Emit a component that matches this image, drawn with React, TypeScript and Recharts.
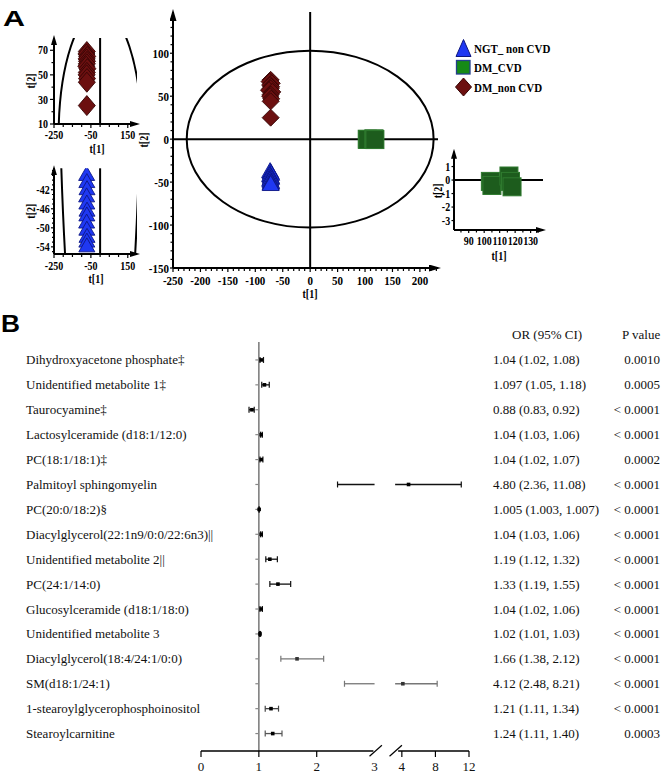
import React from 'react';
import { ScatterChart, Scatter, XAxis, YAxis, ReferenceLine, ReferenceArea, ReferenceDot, Legend } from 'recharts';

const SERIF = '"Liberation Serif", "Times New Roman", Times, serif';
const SANS = '"Liberation Sans", Arial, Helvetica, sans-serif';

/* ---------------- Panel A : PCA score plot ---------------- */
const groupNames = ['NGT_ non CVD', 'DM_CVD', 'DM_non CVD'];
const ngtT1 = [-73, -72, -71, -73, -72, -71, -72, -73, -72, -71, -72, -72];
const ngtT2 = [-39, -40.5, -42, -43.5, -45, -46.5, -47.5, -49, -50.5, -52, -53, -54];
const dmCvdT1 = [104, 105, 116, 117, 118];
const dmCvdT2 = [-0.1, -0.4, 0.3, -0.1, -0.5];
const dmNonT1 = [-72, -74, -70, -73, -71, -72, -75, -69, -72, -73, -71, -72, -72];
const dmNonT2 = [69, 67, 65, 63, 61, 59, 57, 55, 52, 50, 47, 44, 25];
const ellipseT1 = 225;
const ellipseT2 = 103;

const mainT1Labels = [-250, -200, -150, -100, -50, 0, 50, 100, 150, 200];
const mainT2Labels = [-150, -100, -50, 0, 50, 100];
const insetT1Labels = [-250, -50, 150];
const inset1T2Labels = [10, 30, 50, 70];
const inset2T2Labels = [-54, -50, -46, -42];
const inset3T1Labels = [90, 100, 110, 120, 130];
const inset3T2Labels = [-3, -2, -1, 0, 1];

const zip = (xs: number[], ys: number[]) => xs.map((x, i) => ({ x, y: ys[i] }));
const ngtData = zip(ngtT1, ngtT2);
const dmCvdData = zip(dmCvdT1, dmCvdT2);
const dmNonData = zip(dmNonT1, dmNonT2);

const steps = (a: number, b: number, s: number) => {
  const out: number[] = [];
  for (let v = a; v <= b + 1e-9; v += s) out.push(Math.round(v * 1000) / 1000);
  return out;
};

/* ---------------- Panel B : forest plot ---------------- */
const metabolites = [
  'Dihydroxyacetone phosphate‡',
  'Unidentified metabolite 1‡',
  'Taurocyamine‡',
  'Lactosylceramide (d18:1/12:0)',
  'PC(18:1/18:1)‡',
  'Palmitoyl sphingomyelin',
  'PC(20:0/18:2)§',
  'Diacylglycerol(22:1n9/0:0/22:6n3)||',
  'Unidentified metabolite 2||',
  'PC(24:1/14:0)',
  'Glucosylceramide (d18:1/18:0)',
  'Unidentified metabolite 3',
  'Diacylglycerol(18:4/24:1/0:0)',
  'SM(d18:1/24:1)',
  '1-stearoylglycerophosphoinositol',
  'Stearoylcarnitine',
];
const oddsRatio = [1.04, 1.097, 0.88, 1.04, 1.04, 4.8, 1.005, 1.04, 1.19, 1.33, 1.04, 1.02, 1.66, 4.12, 1.21, 1.24];
const ciLower = [1.02, 1.05, 0.83, 1.03, 1.02, 2.36, 1.003, 1.03, 1.12, 1.19, 1.02, 1.01, 1.38, 2.48, 1.11, 1.11];
const ciUpper = [1.08, 1.18, 0.92, 1.06, 1.07, 11.08, 1.007, 1.06, 1.32, 1.55, 1.06, 1.03, 2.12, 8.21, 1.34, 1.4];
const orLabels = [
  '1.04 (1.02, 1.08)', '1.097 (1.05, 1.18)', '0.88 (0.83, 0.92)', '1.04 (1.03, 1.06)',
  '1.04 (1.02, 1.07)', '4.80 (2.36, 11.08)', '1.005 (1.003, 1.007)', '1.04 (1.03, 1.06)',
  '1.19 (1.12, 1.32)', '1.33 (1.19, 1.55)', '1.04 (1.02, 1.06)', '1.02 (1.01, 1.03)',
  '1.66 (1.38, 2.12)', '4.12 (2.48, 8.21)', '1.21 (1.11, 1.34)', '1.24 (1.11, 1.40)',
];
const pLabels = [
  '0.0010', '0.0005', '< 0.0001', '< 0.0001', '0.0002', '< 0.0001', '< 0.0001', '< 0.0001',
  '< 0.0001', '< 0.0001', '< 0.0001', '< 0.0001', '< 0.0001', '< 0.0001', '< 0.0001', '0.0003',
];
const orTickValues = [0, 1, 2, 3, 4, 8, 12];
const orTickLabels = ['0', '1', '2', '3', '4', '8', '12'];
const rowInk = ['#111', '#111', '#111', '#111', '#111', '#111', '#111', '#111', '#111', '#111', '#111', '#111', '#777', '#777', '#444', '#555'];

/* broken axis: linear 0..3, then compressed 4..12 */
const BREAK_LOW = 3;
const RESUME = 3.2;
const U_AT_4 = 3.4715;
const U_PER_HIGH = 0.1451;
const toAxis = (v: number) => (v <= BREAK_LOW ? v : U_AT_4 + (v - 4) * U_PER_HIGH);
const AXIS_END_1 = 2.98;
const AXIS_START_2 = 3.56;
const Y_TOP = 0.28;
const Y_BOTTOM = 16.7;

const rows = metabolites.map((_, i) => i + 1);
const forestPoints = oddsRatio.map((v, i) => ({ x: toAxis(v), y: i + 1, row: i }));
const ciPieces = oddsRatio.map((_, i) => {
  const lo = ciLower[i];
  const hi = ciUpper[i];
  return hi <= BREAK_LOW ? [[lo, hi]] : [[lo, BREAK_LOW], [RESUME, hi]];
});

/* ---------------- styling helpers ---------------- */
const COL = {
  ngt: '#1f38f2', ngtEdge: '#0c1686',
  cvd: '#1d5c1d', cvdEdge: '#2f7a2f',
  non: '#6c1010', nonEdge: '#360404',
};

type TickStyle = { labels: number[]; fs: number; major: number; minor: number; gap: number; stretch: number };
const isIn = (arr: number[], v: number) => arr.some((a) => Math.abs(a - v) < 1e-6);

const bottomTick = (s: TickStyle) => (p: any) => {
  const v = p.payload.value;
  const lab = isIn(s.labels, v);
  const len = lab ? s.major : s.minor;
  return (
    <g>
      <line x1={p.x} y1={p.y} x2={p.x} y2={p.y + len} stroke="#000" strokeWidth={1.2} />
      {lab && (
        <text transform={`translate(${p.x},${p.y + len + s.gap}) scale(1,${s.stretch})`} textAnchor="middle" dy="0.72em"
          fontSize={s.fs} fontWeight="bold" fontFamily={SERIF} fill="#000">{String(v)}</text>
      )}
    </g>
  );
};
const leftTick = (s: TickStyle) => (p: any) => {
  const v = p.payload.value;
  const lab = isIn(s.labels, v);
  const len = lab ? s.major : s.minor;
  return (
    <g>
      <line x1={p.x} y1={p.y} x2={p.x - len} y2={p.y} stroke="#000" strokeWidth={1.2} />
      {lab && (
        <text transform={`translate(${p.x - len - s.gap},${p.y}) scale(1,${s.stretch})`} textAnchor="end" dy="0.35em"
          fontSize={s.fs} fontWeight="bold" fontFamily={SERIF} fill="#000">{String(v)}</text>
      )}
    </g>
  );
};

const xTitle = (text: string, fromBottom: number, dx: number) => (p: any) => {
  const vb = p.viewBox || p;
  return (
    <text transform={`translate(${vb.x + vb.width / 2 + dx},${vb.y + vb.height - fromBottom}) scale(1,1.2)`} textAnchor="middle"
      fontSize={10} fontWeight="bold" fontFamily={SERIF} fill="#000">{text}</text>
  );
};
const yTitle = (text: string, fromLeft: number) => (p: any) => {
  const vb = p.viewBox || p;
  return (
    <text transform={`translate(${vb.x + fromLeft},${vb.y + vb.height / 2}) rotate(-90) scale(1,1.2)`} textAnchor="middle" dy="0.35em"
      fontSize={10} fontWeight="bold" fontFamily={SERIF} fill="#000">{text}</text>
  );
};

type Clip = { id: string; x: number; y: number; w: number; h: number };
const ellipseShape = (clip?: Clip) => (p: any) => (
  <g>
    {clip && (
      <defs>
        <clipPath id={clip.id}>
          <rect x={clip.x} y={clip.y} width={clip.w} height={clip.h} />
        </clipPath>
      </defs>
    )}
    <ellipse cx={p.x + p.width / 2} cy={p.y + p.height / 2} rx={Math.abs(p.width / 2)} ry={Math.abs(p.height / 2)}
      fill="none" stroke="#000" strokeWidth={2} clipPath={clip ? `url(#${clip.id})` : undefined} />
  </g>
);
const triShape = (w: number, up: number, down: number) => (p: any) => (
  <polygon points={`${p.cx},${p.cy - up} ${p.cx + w / 2},${p.cy + down} ${p.cx - w / 2},${p.cy + down}`}
    fill={COL.ngt} stroke={COL.ngtEdge} strokeWidth={0.9} />
);
const sqShape = (w: number, h: number) => (p: any) => (
  <rect x={p.cx - w / 2} y={p.cy - h / 2} width={w} height={h} fill={COL.cvd} stroke={COL.cvdEdge} strokeWidth={1} />
);
const diaShape = (w: number, h: number) => (p: any) => (
  <polygon points={`${p.cx},${p.cy - h / 2} ${p.cx + w / 2},${p.cy} ${p.cx},${p.cy + h / 2} ${p.cx - w / 2},${p.cy}`}
    fill={COL.non} stroke={COL.nonEdge} strokeWidth={0.9} />
);

const AX_BIG_X = { stroke: '#000', strokeWidth: 2, markerEnd: 'url(#arrowBig)' };
const AX_BIG_Y = { stroke: '#000', strokeWidth: 2, markerStart: 'url(#arrowBig)' };
const AX_SM_X = { stroke: '#000', strokeWidth: 2, markerEnd: 'url(#arrowSmall)' };
const AX_SM_Y = { stroke: '#000', strokeWidth: 2, markerStart: 'url(#arrowSmall)' };

const legendRowH = [19.5, 19.5, 20];
const LegendIcon = ({ type, color }: { type: string; color: string }) => (
  <svg width={18} height={20} style={{ display: 'block', flex: '0 0 auto' }}>
    {type === 'triangle' && <polygon points="9.5,1.5 17,18.5 2,18.5" fill={color} stroke="#0d1680" strokeWidth={1} />}
    {type === 'square' && <rect x={2.5} y={3.5} width={13.5} height={13.5} fill={color} stroke="#24408c" strokeWidth={1.3} />}
    {type === 'diamond' && <polygon points="9.5,1 17.5,10 9.5,19 1.5,10" fill={color} stroke={COL.nonEdge} strokeWidth={1} />}
  </svg>
);
const renderLegend = (props: any) => {
  const entries = [...(props.payload || [])].sort((a: any, b: any) => groupNames.indexOf(a.value) - groupNames.indexOf(b.value));
  return (
    <div style={{ fontFamily: SERIF, fontWeight: 'bold', fontSize: 11, color: '#000' }}>
      {entries.map((e: any, i: number) => (
        <div key={e.value} style={{ display: 'flex', alignItems: 'center', height: legendRowH[i] }}>
          <LegendIcon type={e.type} color={e.color} />
          <span style={{ marginLeft: 2, display: 'inline-block', transform: 'scaleY(1.2)', whiteSpace: 'nowrap' }}>{e.value}</span>
        </div>
      ))}
    </div>
  );
};

/* ---------------- forest helpers ---------------- */
const F_LEFT = 201;
const F_RIGHT = 469;
const forestRowTick = (p: any) => {
  const i = Math.round(p.payload.value) - 1;
  return (
    <g fontFamily={SERIF} fontSize={13} fill="#111">
      <text x={p.x - (F_LEFT - 26)} y={p.y} dy="0.35em" textAnchor="start">{metabolites[i]}</text>
      <text x={F_RIGHT + 24} y={p.y} dy="0.35em" textAnchor="start">{orLabels[i]}</text>
      <text x={660} y={p.y} dy="0.35em" textAnchor="end">{pLabels[i]}</text>
    </g>
  );
};
const forestXTick = (p: any) => {
  const idx = orTickValues.findIndex((t) => Math.abs(toAxis(t) - p.payload.value) < 1e-6);
  const label = orTickLabels[idx];
  const showLine = orTickValues[idx] !== BREAK_LOW;
  return (
    <g>
      {showLine && <line x1={p.x} y1={p.y} x2={p.x} y2={p.y + 6} stroke="#000" strokeWidth={1.2} />}
      <text x={p.x} y={p.y + 10.5} dy="0.71em" textAnchor="middle" fontSize={13} fontFamily={SERIF} fill="#111">{label}</text>
    </g>
  );
};
const capShape = (color: string) => (p: any) => (
  <line x1={p.cx} y1={p.cy - 3} x2={p.cx} y2={p.cy + 3} stroke={color} strokeWidth={1.2} />
);
const rowTickShape = (p: any) => <line x1={p.cx - 3.5} y1={p.cy} x2={p.cx} y2={p.cy} stroke="#888" strokeWidth={1.2} />;
const dotShape = (p: any) => {
  const r = p.payload ? p.payload.row : p.row;
  return <rect x={p.cx - 1.8} y={p.cy - 1.8} width={3.6} height={3.6} fill={rowInk[r] === '#777' ? '#333' : '#000'} />;
};

export default function App() {
  const mainXStyle: TickStyle = { labels: mainT1Labels, fs: 11, major: 4, minor: 3, gap: 3, stretch: 1.2 };
  const mainYStyle: TickStyle = { labels: mainT2Labels, fs: 11, major: 3, minor: 2.5, gap: 1, stretch: 1.2 };
  const inXStyle: TickStyle = { labels: insetT1Labels, fs: 10, major: 4, minor: 3, gap: 2.5, stretch: 1.2 };
  const in1YStyle: TickStyle = { labels: inset1T2Labels, fs: 10, major: 4, minor: 2.5, gap: 2, stretch: 1.2 };
  const in2YStyle: TickStyle = { labels: inset2T2Labels, fs: 10, major: 3, minor: 2, gap: 1.3, stretch: 1.2 };
  const in3XStyle: TickStyle = { labels: inset3T1Labels, fs: 10, major: 3, minor: 2.5, gap: 3.5, stretch: 1.2 };
  const in3YStyle: TickStyle = { labels: inset3T2Labels, fs: 10, major: 2.5, minor: 2, gap: 1.3, stretch: 1.2 };

  return (
    <div style={{ position: 'absolute', left: 0, top: 0, width: 663, height: 776, background: '#fff', overflow: 'hidden' }}>
      <svg width={0} height={0} style={{ position: 'absolute' }}>
        <defs>
          <marker id="arrowBig" viewBox="0 0 12 7" refX={9} refY={3.5} markerWidth={12} markerHeight={7}
            markerUnits="userSpaceOnUse" orient="auto-start-reverse">
            <path d="M0,0 L12,3.5 L0,7 z" fill="#000" />
          </marker>
          <marker id="arrowSmall" viewBox="0 0 10 6" refX={7} refY={3} markerWidth={10} markerHeight={6}
            markerUnits="userSpaceOnUse" orient="auto-start-reverse">
            <path d="M0,0 L10,3 L0,6 z" fill="#000" />
          </marker>
        </defs>
      </svg>

      {/* main score plot */}
      <div style={{ position: 'absolute', left: 130, top: 0 }}>
        <ScatterChart width={440} height={300} margin={{ top: 12, right: 132, bottom: 0, left: 0 }}>
          <XAxis type="number" dataKey="x" domain={[-250, 233]} allowDataOverflow ticks={steps(-250, 230, 10)} interval={0}
            tickLine={false} tickSize={0} tickMargin={0} tick={bottomTick(mainXStyle)} axisLine={AX_BIG_X} height={32}
            label={xTitle('t[1]', 2.5, 4.5)} />
          <YAxis type="number" dataKey="y" domain={[-150, 148]} allowDataOverflow ticks={steps(-150, 140, 10)} interval={0}
            tickLine={false} tickSize={0} tickMargin={0} tick={leftTick(mainYStyle)} axisLine={AX_BIG_Y} width={43}
            label={yTitle('t[2]', 14)} />
          <ReferenceArea x1={-ellipseT1} x2={ellipseT1} y1={-ellipseT2} y2={ellipseT2} shape={ellipseShape()} ifOverflow="visible" />
          <ReferenceLine x={0} stroke="#000" strokeWidth={2} />
          <ReferenceLine y={0} stroke="#000" strokeWidth={2} />
          <Scatter name={groupNames[0]} data={ngtData} fill={COL.ngt} legendType="triangle" shape={triShape(17, 10, 5)} isAnimationActive={false} />
          <Scatter name={groupNames[1]} data={dmCvdData} fill="#168a16" legendType="square" shape={sqShape(18, 18)} isAnimationActive={false} />
          <Scatter name={groupNames[2]} data={dmNonData} fill={COL.non} legendType="diamond" shape={diaShape(17, 17)} isAnimationActive={false} />
          <Legend content={renderLegend} layout="horizontal" verticalAlign="middle" align="center"
            wrapperStyle={{ left: 324, top: 38, width: 116, height: 60 }} />
        </ScatterChart>
      </div>

      {/* inset: DM_non CVD */}
      <div style={{ position: 'absolute', left: 20, top: 28 }}>
        <ScatterChart width={130} height={128} margin={{ top: 10, right: 13, bottom: 0, left: 0 }}>
          <XAxis type="number" dataKey="x" domain={[-250, 200]} allowDataOverflow ticks={steps(-250, 150, 50)} interval={0}
            tickLine={false} tickSize={0} tickMargin={0} tick={bottomTick(inXStyle)} axisLine={AX_SM_X} height={32}
            label={xTitle('t[1]', 3.5, 1.5)} />
          <YAxis type="number" dataKey="y" domain={[10, 80]} allowDataOverflow ticks={steps(10, 70, 10)} interval={0}
            tickLine={false} tickSize={0} tickMargin={0} tick={leftTick(in1YStyle)} axisLine={AX_SM_Y} width={34}
            label={yTitle('t[2]', 11)} />
          <ReferenceArea x1={-ellipseT1} x2={ellipseT1} y1={-ellipseT2} y2={ellipseT2}
            shape={ellipseShape({ id: 'clipInset1', x: 34, y: 10, w: 83, h: 86 })} ifOverflow="visible" />
          <ReferenceLine x={0} stroke="#000" strokeWidth={2} />
          <Scatter name={groupNames[2]} data={dmNonData} fill={COL.non} shape={diaShape(17, 20)} isAnimationActive={false} />
        </ScatterChart>
      </div>

      {/* inset: NGT_non CVD */}
      <div style={{ position: 'absolute', left: 20, top: 158 }}>
        <ScatterChart width={130} height={128} margin={{ top: 10.3, right: 13, bottom: 0, left: 0 }}>
          <XAxis type="number" dataKey="x" domain={[-250, 200]} allowDataOverflow ticks={steps(-250, 150, 50)} interval={0}
            tickLine={false} tickSize={0} tickMargin={0} tick={bottomTick({ ...inXStyle, gap: 3.5 })} axisLine={AX_SM_X} height={32}
            label={xTitle('t[1]', 3.5, 0.5)} />
          <YAxis type="number" dataKey="y" domain={[-55.5, -37.5]} allowDataOverflow ticks={steps(-55, -38, 1)} interval={0}
            tickLine={false} tickSize={0} tickMargin={0} tick={leftTick(in2YStyle)} axisLine={AX_SM_Y} width={34}
            label={yTitle('t[2]', 11)} />
          <ReferenceArea x1={-ellipseT1} x2={ellipseT1} y1={-ellipseT2} y2={ellipseT2}
            shape={ellipseShape({ id: 'clipInset2', x: 34, y: 10.3, w: 83, h: 85.7 })} ifOverflow="visible" />
          <ReferenceLine x={0} stroke="#000" strokeWidth={2} />
          <Scatter name={groupNames[0]} data={ngtData} fill={COL.ngt} shape={triShape(16, 9, 5)} isAnimationActive={false} />
        </ScatterChart>
      </div>

      {/* inset: DM_CVD */}
      <div style={{ position: 'absolute', left: 420, top: 140 }}>
        <ScatterChart width={140} height={125} margin={{ top: 11.7, right: 17, bottom: 0, left: 0 }}>
          <XAxis type="number" dataKey="x" domain={[80.5, 138]} allowDataOverflow ticks={steps(85, 135, 5)} interval={0}
            tickLine={false} tickSize={0} tickMargin={0} tick={bottomTick(in3XStyle)} axisLine={AX_SM_X} height={35}
            label={xTitle('t[1]', 5.5, 0.5)} />
          <YAxis type="number" dataKey="y" domain={[-3.7, 2.1]} allowDataOverflow ticks={steps(-3, 1, 1)} interval={0}
            tickLine={false} tickSize={0} tickMargin={0} tick={leftTick(in3YStyle)} axisLine={AX_SM_Y} width={34}
            label={yTitle('t[2]', 18)} />
          <ReferenceLine y={0} stroke="#000" strokeWidth={2} />
          <Scatter name={groupNames[1]} data={dmCvdData} fill={COL.cvd} shape={sqShape(18, 18)} isAnimationActive={false} />
        </ScatterChart>
      </div>

      {/* forest plot */}
      <div style={{ position: 'absolute', left: 0, top: 300 }}>
        <ScatterChart width={663} height={476} margin={{ top: 42, right: 663 - F_RIGHT, bottom: 0, left: 0 }}>
          <XAxis type="number" dataKey="x" domain={[0, toAxis(12)]} allowDataOverflow ticks={orTickValues.map(toAxis)} interval={0}
            tickLine={false} tickSize={0} tickMargin={0} tick={forestXTick} axisLine={false} height={25} />
          <YAxis type="number" dataKey="y" domain={[Y_TOP, Y_BOTTOM]} allowDataOverflow reversed ticks={rows} interval={0}
            tickLine={false} tickSize={0} tickMargin={0} tick={forestRowTick} axisLine={false} width={F_LEFT} />
          <ReferenceLine x={1} stroke="#808080" strokeWidth={1.6} />
          <ReferenceLine segment={[{ x: 0, y: Y_BOTTOM }, { x: toAxis(AXIS_END_1), y: Y_BOTTOM }]} stroke="#000" strokeWidth={1.3} ifOverflow="visible" />
          <ReferenceLine segment={[{ x: toAxis(AXIS_START_2), y: Y_BOTTOM }, { x: toAxis(12), y: Y_BOTTOM }]} stroke="#000" strokeWidth={1.3} ifOverflow="visible" />
          <ReferenceLine segment={[{ x: 2.913, y: Y_BOTTOM + 0.21 }, { x: 3.127, y: Y_BOTTOM - 0.23 }]} stroke="#000" strokeWidth={1.2} ifOverflow="visible" />
          <ReferenceLine segment={[{ x: 3.259, y: Y_BOTTOM + 0.21 }, { x: 3.473, y: Y_BOTTOM - 0.23 }]} stroke="#000" strokeWidth={1.2} ifOverflow="visible" />
          {rows.map((r) => (
            <ReferenceDot key={`t${r}`} x={1} y={r} r={1} shape={rowTickShape} ifOverflow="visible" />
          ))}
          {ciPieces.map((pieces, i) =>
            pieces.map((pc, j) => (
              <ReferenceLine key={`ci${i}-${j}`} segment={[{ x: toAxis(pc[0]), y: i + 1 }, { x: toAxis(pc[1]), y: i + 1 }]}
                stroke={rowInk[i]} strokeWidth={1.3} ifOverflow="visible" />
            ))
          )}
          {ciLower.map((lo, i) => (
            <ReferenceDot key={`lo${i}`} x={toAxis(lo)} y={i + 1} r={1} shape={capShape(rowInk[i])} ifOverflow="visible" />
          ))}
          {ciUpper.map((hi, i) => (
            <ReferenceDot key={`hi${i}`} x={toAxis(hi)} y={i + 1} r={1} shape={capShape(rowInk[i])} ifOverflow="visible" />
          ))}
          <Scatter data={forestPoints} fill="#000" shape={dotShape} isAnimationActive={false} />
        </ScatterChart>
      </div>

      {/* panel letters and column headers */}
      <svg width={663} height={776} style={{ position: 'absolute', left: 0, top: 0, pointerEvents: 'none' }}>
        <text x={3} y={26} fontFamily={SANS} fontWeight="bold" fontSize={22} textLength={22} lengthAdjust="spacingAndGlyphs" fill="#000">A</text>
        <text x={1} y={332} fontFamily={SANS} fontWeight="bold" fontSize={23} textLength={19} lengthAdjust="spacingAndGlyphs" fill="#000">B</text>
        <text x={512} y={338.5} fontFamily={SERIF} fontSize={13} fill="#111">OR (95% CI)</text>
        <text x={622} y={338.5} fontFamily={SERIF} fontSize={13} fill="#111">P value</text>
      </svg>
    </div>
  );
}
